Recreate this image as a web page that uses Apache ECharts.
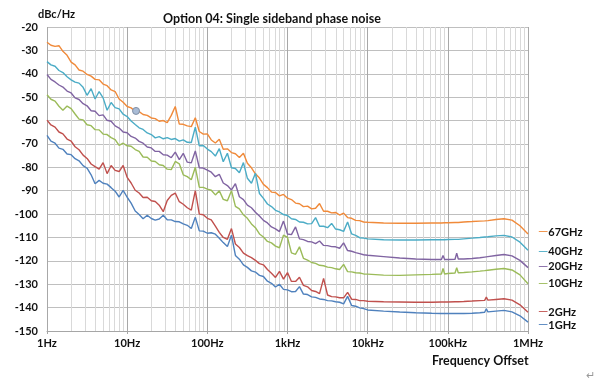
<!DOCTYPE html>
<html><head><meta charset="utf-8">
<script src="https://cdn.jsdelivr.net/npm/echarts@6/dist/echarts.min.js"></script>
<style>html,body{margin:0;padding:0;background:#fff}#c{width:600px;height:389px}</style>
</head><body><div id="c"></div>
<script>
// Frequency offsets (Hz)
const freqs = [
  1, 1.12, 1.26, 1.41, 1.58, 1.78, 2, 2.24, 2.51, 2.82,
  3.16, 3.55, 3.98, 4.47, 5.01, 5.62, 6.31, 7.08, 7.94, 8.91,
  10, 11.2, 12.6, 14.1, 15.8, 17.8, 20, 22.4, 25.1, 28.2,
  31.6, 35.5, 39.8, 44.7, 50.1, 56.2, 63.1, 70.8, 79.4, 89.1,
  100, 112, 126, 141, 158, 178, 200, 224, 251, 282,
  316, 355, 398, 447, 501, 562, 631, 708, 794, 891,
  1000, 1120, 1260, 1410, 1580, 1780, 2000, 2240, 2510, 2820,
  3160, 3550, 3980, 4470, 5010, 5620, 6310, 7080, 7940, 8910,
  10000, 15800, 25100, 39800, 63100, 83200, 87100, 91200, 100000, 123000,
  129000, 135000, 158000, 200000, 251000, 288000, 302000, 316000, 398000, 501000,
  631000, 794000, 1000000
];
const seriesNames = ['67GHz', '40GHz', '20GHz', '10GHz', '2GHz', '1GHz'];
const v67 = [
  -26.5, -27.8, -28.3, -28.0, -30.4, -32.1, -35.0, -36.2, -38.4, -38.9,
  -40.3, -41.0, -42.4, -42.6, -44.4, -45.1, -46.9, -47.6, -50.8, -52.2,
  -54.0, -54.6, -56.0, -56.2, -57.4, -57.8, -58.9, -59.2, -60.3, -60.0,
  -60.9, -57.8, -54.0, -61.5, -61.6, -62.3, -62.6, -58.8, -64.7, -65.8,
  -65.7, -68.3, -69.6, -68.0, -72.3, -72.1, -73.7, -74.2, -75.8, -74.0,
  -78.3, -80.2, -82.8, -84.6, -87.3, -88.7, -90.6, -90.8, -92.2, -91.6,
  -93.2, -93.8, -95.3, -95.6, -96.8, -96.6, -97.8, -97.5, -95.5, -98.8,
  -98.8, -99.5, -99.3, -100.4, -99.6, -101.5, -101.8, -102.7, -102.8, -103.4,
  -103.5, -103.8, -103.9, -103.9, -103.8, -103.8, -103.8, -103.7, -103.7, -103.6,
  -103.6, -103.6, -103.4, -103.2, -103.0, -102.9, -102.2, -102.8, -102.3, -102.0,
  -102.6, -105.0, -108.5
];
const v40 = [
  -34.8, -36.2, -36.8, -38.6, -39.5, -41.3, -42.6, -43.6, -44.0, -45.8,
  -49.2, -46.4, -50.8, -47.6, -50.3, -55.6, -52.3, -54.5, -55.0, -57.3,
  -58.3, -60.2, -61.7, -63.1, -63.8, -65.3, -66.0, -67.4, -66.9, -67.8,
  -67.3, -68.1, -67.7, -68.8, -68.3, -69.3, -69.4, -62.8, -70.8, -70.7,
  -72.2, -73.3, -75.2, -72.0, -77.6, -74.0, -80.2, -80.5, -82.3, -78.0,
  -84.7, -86.8, -82.5, -91.2, -93.3, -95.7, -96.8, -98.4, -99.1, -100.2,
  -100.6, -102.0, -102.3, -103.4, -103.5, -104.2, -104.1, -101.5, -105.2, -105.2,
  -105.8, -104.0, -106.4, -106.7, -107.4, -103.4, -108.5, -109.1, -110.1, -110.3,
  -110.6, -111.0, -111.1, -111.1, -111.0, -111.0, -111.0, -111.0, -110.9, -110.8,
  -110.8, -110.8, -110.6, -110.3, -110.0, -109.8, -109.2, -109.7, -109.3, -109.1,
  -109.8, -112.0, -115.5
];
const v20 = [
  -40.3, -42.4, -43.5, -44.8, -45.7, -47.4, -48.2, -50.3, -51.0, -52.8,
  -53.7, -55.8, -56.0, -57.9, -57.6, -59.9, -60.3, -62.3, -63.2, -64.9,
  -65.2, -66.8, -67.5, -68.9, -69.7, -71.3, -71.7, -73.2, -73.2, -74.6,
  -74.8, -75.9, -73.5, -76.7, -74.0, -77.8, -78.1, -73.0, -80.2, -80.3,
  -81.2, -82.1, -84.0, -83.0, -86.7, -87.8, -89.7, -87.0, -92.6, -93.8,
  -96.2, -97.3, -99.2, -100.8, -102.7, -103.8, -105.5, -106.3, -107.5, -103.0,
  -108.5, -108.8, -105.5, -110.6, -110.9, -111.7, -111.9, -112.6, -111.5, -113.4,
  -113.5, -113.9, -114.0, -114.6, -112.3, -115.6, -115.9, -116.5, -116.9, -117.4,
  -117.6, -118.2, -118.8, -119.2, -119.4, -119.4, -117.7, -119.4, -119.4, -119.3,
  -116.7, -119.2, -119.2, -119.0, -118.7, -118.4, -117.6, -118.2, -117.7, -117.3,
  -117.9, -119.8, -122.9
];
const v10 = [
  -49.0, -50.9, -51.7, -53.9, -55.6, -53.8, -54.9, -57.2, -59.4, -59.7,
  -61.8, -62.2, -63.9, -64.0, -65.8, -66.0, -67.3, -68.2, -70.6, -69.7,
  -70.8, -71.0, -72.4, -73.2, -75.6, -75.7, -77.3, -77.5, -78.9, -79.2,
  -80.8, -81.0, -77.5, -78.5, -83.2, -84.0, -85.3, -80.0, -88.5, -88.6,
  -89.3, -89.8, -91.8, -90.0, -93.7, -94.3, -90.0, -96.7, -97.8, -100.3,
  -101.8, -104.2, -105.8, -108.5, -109.8, -111.7, -112.3, -113.7, -114.4, -109.0,
  -110.0, -116.6, -117.2, -114.0, -118.9, -119.7, -120.7, -121.1, -121.9, -122.1,
  -122.7, -122.9, -123.4, -123.7, -121.5, -124.6, -124.7, -125.1, -125.2, -125.6,
  -125.7, -126.1, -126.2, -126.0, -125.8, -125.6, -123.3, -125.6, -125.4, -125.2,
  -122.9, -125.1, -125.0, -124.7, -124.4, -124.2, -123.6, -124.0, -123.6, -123.3,
  -123.9, -126.0, -129.8
];
const v2 = [
  -59.8, -61.9, -62.8, -64.9, -65.7, -67.9, -68.8, -71.2, -72.5, -74.8,
  -76.2, -78.6, -79.7, -80.8, -78.0, -82.7, -79.2, -81.3, -81.8, -79.2,
  -84.3, -86.7, -89.8, -91.0, -92.9, -92.8, -94.3, -94.6, -96.2, -99.0,
  -94.2, -92.0, -91.0, -94.7, -95.8, -97.3, -98.3, -90.0, -100.0, -100.3,
  -101.8, -102.5, -105.2, -107.8, -110.0, -110.8, -106.2, -112.8, -114.3, -116.7,
  -117.8, -118.6, -119.8, -121.2, -121.7, -123.7, -125.3, -127.1, -124.5, -127.8,
  -125.0, -128.8, -128.8, -127.0, -130.5, -131.1, -132.7, -133.1, -134.0, -127.5,
  -134.6, -135.3, -135.4, -135.8, -135.8, -133.5, -136.4, -136.5, -137.0, -137.0,
  -137.3, -137.5, -137.6, -137.7, -137.7, -137.6, -137.6, -137.6, -137.6, -137.5,
  -137.5, -137.5, -137.4, -137.2, -137.0, -136.9, -135.5, -136.8, -136.5, -136.2,
  -136.8, -138.8, -142.0
];
const v1 = [
  -66.3, -68.8, -69.7, -71.8, -72.3, -74.3, -74.6, -76.3, -77.2, -79.3,
  -80.4, -83.2, -87.0, -85.6, -86.8, -87.2, -88.7, -90.2, -92.7, -89.9,
  -92.8, -95.3, -98.7, -100.2, -102.0, -100.5, -101.9, -102.6, -102.1, -100.5,
  -102.4, -102.5, -103.2, -103.3, -104.2, -104.8, -106.2, -101.3, -107.2, -107.3,
  -108.2, -108.0, -108.6, -110.3, -112.2, -113.9, -109.0, -117.7, -119.3, -121.7,
  -122.8, -124.3, -124.8, -126.2, -126.7, -128.7, -129.6, -131.2, -130.0, -132.2,
  -132.4, -133.2, -133.1, -131.0, -134.2, -134.4, -135.4, -135.6, -136.3, -136.5,
  -137.0, -137.1, -137.5, -137.7, -138.4, -135.2, -139.1, -139.4, -140.1, -140.4,
  -141.0, -141.5, -141.9, -142.2, -142.4, -142.5, -142.5, -142.5, -142.5, -142.5,
  -142.5, -142.5, -142.5, -142.4, -142.2, -142.0, -140.5, -141.8, -141.5, -141.2,
  -141.8, -143.5, -146.2
];
const seriesValues = [v67, v40, v20, v10, v2, v1];
const xTickLabels = ['1Hz', '10Hz', '100Hz', '1kHz', '10kHz', '100kHz', '1MHz'];
const minorMultipliers = [2, 3, 4, 5, 6, 7, 8, 9];
const markerPoint = [12.9, -55.9];

const colors = ['#F08A3A', '#4BACC6', '#8064A2', '#9BBB59', '#C0504D', '#4F81BD'];
const labelOffsets = [[2, -2], [2, 1], [2, -1], [2, 0], [2, 0], [2, 3]];
const font = 'Lato, "Open Sans", sans-serif';

const minorX = [];
for (let d = 0; d < 6; d++) for (const m of minorMultipliers) minorX.push(m * Math.pow(10, d));

const series = seriesNames.map((name, k) => ({
  name, type: 'line', z: 3,
  data: freqs.map((f, i) => [f, seriesValues[k][i]]),
  showSymbol: false, symbol: 'none', silent: true,
  lineStyle: { color: colors[k], width: 1.4 },
  itemStyle: { color: colors[k] },
  emphasis: { disabled: true },
  endLabel: {
    show: true, offset: labelOffsets[k],
    formatter: '{l|—}{t|' + name + '}',
    rich: {
      l: { color: colors[k], fontSize: 13, fontFamily: font, padding: [0, 0, 0, 0] },
      t: { color: '#111', fontSize: 11, fontWeight: 'bold', fontFamily: font }
    }
  }
}));
series[0].markPoint = {
  silent: true, symbol: 'circle', symbolSize: 7,
  itemStyle: { color: '#a9bcd6', borderColor: '#7f8fa6', borderWidth: 1 },
  label: { show: false },
  data: [{ coord: markerPoint }]
};
series[5].markLine = {
  z: 1, silent: true, symbol: 'none', animation: false,
  label: { show: false },
  lineStyle: { color: '#d9d9d9', width: 1, type: 'solid' },
  emphasis: { disabled: true },
  data: minorX.map(v => ({ xAxis: v }))
};

const chart = echarts.init(document.getElementById('c'), null, { renderer: 'canvas' });
chart.setOption({
  animation: false,
  backgroundColor: '#fff',
  grid: { left: 47, right: 72, top: 27, bottom: 58, containLabel: false },
  title: {
    text: 'Option 04: Single sideband phase noise', left: 158, top: 7,
    textStyle: { fontSize: 12.5, fontWeight: 'bold', color: '#111', fontFamily: font }
  },
  graphic: [
    { type: 'text', left: 38, top: 9, style: { text: 'dBc/Hz', font: 'bold 11px ' + font, fill: '#111' } },
    { type: 'text', left: 432, top: 354, style: { text: 'Frequency Offset', font: 'bold 12.5px ' + font, fill: '#111' } },
    { type: 'text', left: 586, top: 370, style: { text: '↵', font: '11px ' + font, fill: '#999' } }
  ],
  xAxis: {
    type: 'log', logBase: 10, min: 1, max: 1000000,
    axisLine: { show: true, lineStyle: { color: '#a6a6a6' } },
    axisTick: { show: true, length: 3, lineStyle: { color: '#a6a6a6' } },
    axisLabel: {
      margin: 7, fontSize: 11, fontWeight: 'bold', color: '#111', fontFamily: font,
      formatter: v => xTickLabels[Math.round(Math.log10(v))]
    },
    splitLine: { show: true, lineStyle: { color: '#a8a8a8', width: 1 } }
  },
  yAxis: {
    type: 'value', min: -150, max: -20, interval: 10,
    axisLine: { show: false },
    axisTick: { show: false },
    axisLabel: { margin: 9, fontSize: 11, fontWeight: 'bold', color: '#111', fontFamily: font },
    splitLine: { show: true, lineStyle: { color: '#bfbfbf', width: 1 } }
  },
  series
});
</script></body></html>
